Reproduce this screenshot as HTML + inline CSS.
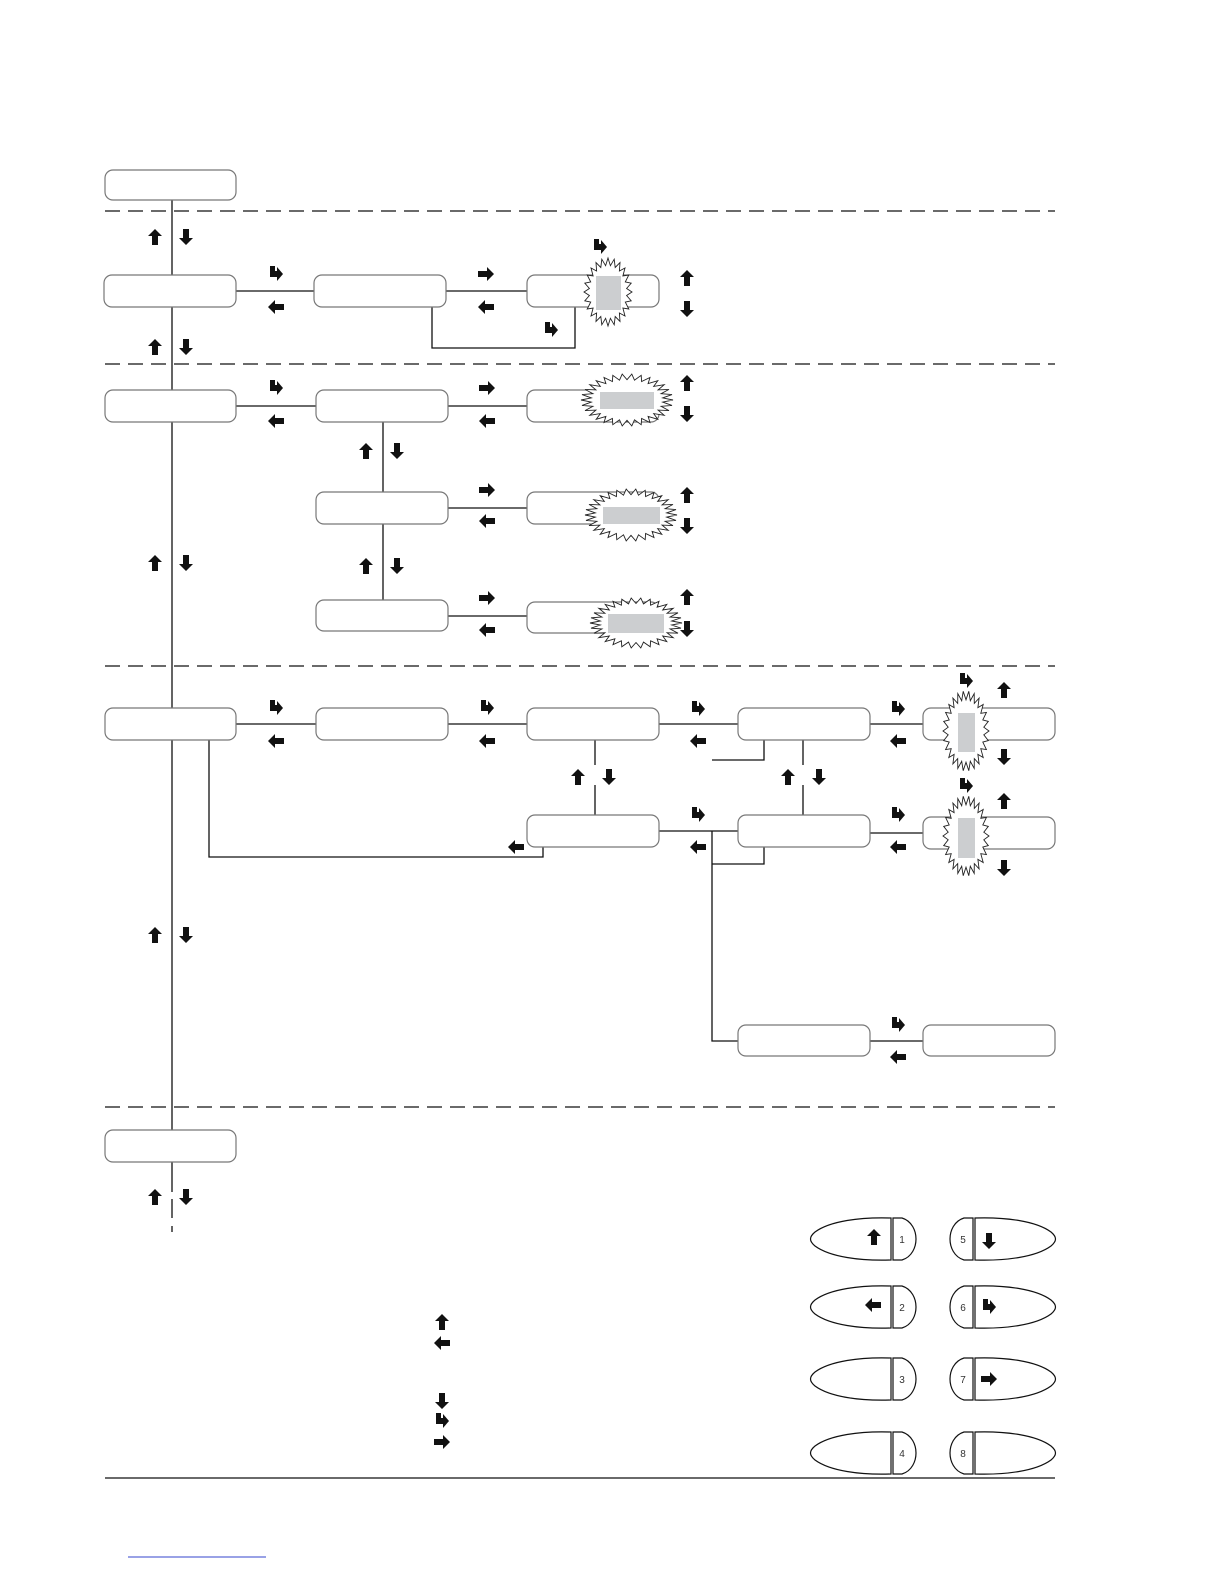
<!DOCTYPE html>
<html><head><meta charset="utf-8"><style>
html,body{margin:0;padding:0;background:#fff;width:1224px;height:1584px;overflow:hidden;}
svg{display:block;position:absolute;left:0;top:0;}
</style></head><body>
<svg id="s" width="1224" height="1584" viewBox="0 0 1224 1584" xmlns="http://www.w3.org/2000/svg">
<defs>
<path id="up" d="M0,-8 L7,-1 L3,-1 L3,8 L-3,8 L-3,-1 L-7,-1 Z" fill="#111"/>
<path id="dn" d="M0,8 L7,1 L3,1 L3,-8 L-3,-8 L-3,1 L-7,1 Z" fill="#111"/>
<path id="lf" d="M-8,0 L-1,-7 L-1,-3 L8,-3 L8,3 L-1,3 L-1,7 Z" fill="#111"/>
<path id="rt" d="M8,0 L1,-7 L1,-3 L-8,-3 L-8,3 L1,3 L1,7 Z" fill="#111"/>
<path id="en" d="M-6,-8 L-1,-8 L-1,-3 L1,-3 L1,-7 L7,0 L1,7 L1,3 L-6,3 Z" fill="#111"/>
</defs>
<g fill="none" stroke="#111" stroke-width="1.3">
<g stroke-dasharray="15 8">
<line x1="105" y1="211" x2="1055" y2="211"/>
<line x1="105" y1="364" x2="1055" y2="364"/>
<line x1="105" y1="666" x2="1055" y2="666"/>
<line x1="105" y1="1107" x2="1055" y2="1107"/>
</g>
<line x1="105" y1="1478" x2="1055" y2="1478"/>
<line x1="172" y1="200" x2="172" y2="1192"/>
<line x1="172" y1="1199" x2="172" y2="1218"/>
<line x1="172" y1="1226" x2="172" y2="1232"/>
<line x1="236" y1="291" x2="314" y2="291"/>
<line x1="446" y1="291" x2="527" y2="291"/>
<polyline points="432,307 432,348 575,348 575,307"/>
<line x1="236" y1="406" x2="316" y2="406"/>
<line x1="448" y1="406" x2="527" y2="406"/>
<line x1="448" y1="508" x2="527" y2="508"/>
<line x1="448" y1="616" x2="527" y2="616"/>
<line x1="383" y1="422" x2="383" y2="492"/>
<line x1="383" y1="524" x2="383" y2="600"/>
<line x1="236" y1="724" x2="316" y2="724"/>
<line x1="448" y1="724" x2="527" y2="724"/>
<line x1="659" y1="724" x2="738" y2="724"/>
<line x1="870" y1="724" x2="923" y2="724"/>
<line x1="595" y1="740" x2="595" y2="765"/>
<line x1="595" y1="785" x2="595" y2="815"/>
<line x1="803" y1="740" x2="803" y2="765"/>
<line x1="803" y1="785" x2="803" y2="815"/>
<polyline points="764,740 764,760 712,760"/>
<polyline points="209,740 209,857 543,857 543,847"/>
<line x1="659" y1="831" x2="738" y2="831"/>
<polyline points="712,831 712,1041 738,1041"/>
<polyline points="764,847 764,864 712,864"/>
<line x1="870" y1="833" x2="923" y2="833"/>
<line x1="870" y1="1041" x2="923" y2="1041"/>
</g>
<g fill="#fff" stroke="#777" stroke-width="1.2">
<rect x="105" y="170" width="131" height="30" rx="8"/>
<rect x="104" y="275" width="132" height="32" rx="8"/>
<rect x="314" y="275" width="132" height="32" rx="8"/>
<rect x="527" y="275" width="132" height="32" rx="8"/>
<rect x="105" y="390" width="131" height="32" rx="8"/>
<rect x="316" y="390" width="132" height="32" rx="8"/>
<rect x="527" y="390" width="132" height="32" rx="8"/>
<rect x="316" y="492" width="132" height="32" rx="8"/>
<rect x="527" y="492" width="132" height="32" rx="8"/>
<rect x="316" y="600" width="132" height="31" rx="8"/>
<rect x="527" y="602" width="132" height="31" rx="8"/>
<rect x="105" y="708" width="131" height="32" rx="8"/>
<rect x="316" y="708" width="132" height="32" rx="8"/>
<rect x="527" y="708" width="132" height="32" rx="8"/>
<rect x="738" y="708" width="132" height="32" rx="8"/>
<rect x="923" y="708" width="132" height="32" rx="8"/>
<rect x="527" y="815" width="132" height="32" rx="8"/>
<rect x="738" y="815" width="132" height="32" rx="8"/>
<rect x="923" y="817" width="132" height="32" rx="8"/>
<rect x="738" y="1025" width="132" height="31" rx="8"/>
<rect x="923" y="1025" width="132" height="31" rx="8"/>
<rect x="105" y="1130" width="131" height="32" rx="8"/>
</g>
<g id="bursts"></g>
<use href="#up" x="155" y="237"/><use href="#dn" x="186" y="237"/>
<use href="#up" x="155" y="347"/><use href="#dn" x="186" y="347"/>
<use href="#up" x="155" y="563"/><use href="#dn" x="186" y="563"/>
<use href="#up" x="155" y="935"/><use href="#dn" x="186" y="935"/>
<use href="#up" x="155" y="1197"/><use href="#dn" x="186" y="1197"/>
<use href="#en" x="276" y="274"/><use href="#lf" x="276" y="307"/>
<use href="#rt" x="486" y="274"/><use href="#lf" x="486" y="307"/>
<use href="#en" x="600" y="247"/><use href="#en" x="551" y="330"/>
<use href="#up" x="687" y="278"/><use href="#dn" x="687" y="309"/>
<use href="#en" x="276" y="388"/><use href="#lf" x="276" y="421"/>
<use href="#rt" x="487" y="388"/><use href="#lf" x="487" y="421"/>
<use href="#up" x="687" y="383"/><use href="#dn" x="687" y="414"/>
<use href="#up" x="366" y="451"/><use href="#dn" x="397" y="451"/>
<use href="#rt" x="487" y="490"/><use href="#lf" x="487" y="521"/>
<use href="#up" x="687" y="495"/><use href="#dn" x="687" y="526"/>
<use href="#up" x="366" y="566"/><use href="#dn" x="397" y="566"/>
<use href="#rt" x="487" y="598"/><use href="#lf" x="487" y="630"/>
<use href="#up" x="687" y="597"/><use href="#dn" x="687" y="629"/>
<use href="#en" x="276" y="708"/><use href="#lf" x="276" y="741"/>
<use href="#en" x="487" y="708"/><use href="#lf" x="487" y="741"/>
<use href="#en" x="698" y="709"/><use href="#lf" x="698" y="741"/>
<use href="#en" x="898" y="709"/><use href="#lf" x="898" y="741"/>
<use href="#en" x="966" y="681"/><use href="#up" x="1004" y="690"/><use href="#dn" x="1004" y="757"/>
<use href="#up" x="578" y="777"/><use href="#dn" x="609" y="777"/>
<use href="#up" x="788" y="777"/><use href="#dn" x="819" y="777"/>
<use href="#lf" x="516" y="847"/>
<use href="#en" x="698" y="815"/><use href="#lf" x="698" y="847"/>
<use href="#en" x="898" y="815"/><use href="#lf" x="898" y="847"/>
<use href="#en" x="966" y="786"/><use href="#up" x="1004" y="801"/><use href="#dn" x="1004" y="868"/>
<use href="#en" x="898" y="1025"/><use href="#lf" x="898" y="1057"/>
<use href="#up" x="442" y="1322"/><use href="#lf" x="442" y="1343"/>
<use href="#dn" x="442" y="1401"/><use href="#en" x="442" y="1421"/><use href="#rt" x="442" y="1442"/>
<g id="btns" fill="#fff" stroke="#111" stroke-width="1.2" font-family="Liberation Sans, sans-serif" font-size="10"></g>
<line x1="128" y1="1557" x2="266" y2="1557" stroke="#3344cc" stroke-width="1"/>
</svg>
<script>
(function(){
var NS="http://www.w3.org/2000/svg",s=document.getElementById("s"),b=document.getElementById("bursts"),g=document.getElementById("btns");
function el(n,a,p){var e=document.createElementNS(NS,n);for(var k in a)e.setAttribute(k,a[k]);(p||s).appendChild(e);return e;}
function burst(cx,cy,rx,ry,n,gx,gy,gw,gh){var pts=[];for(var i=0;i<2*n;i++){var a=Math.PI*i/n,f=i%2?0.78:1;pts.push((cx+rx*f*Math.cos(a)).toFixed(1)+","+(cy+ry*f*Math.sin(a)).toFixed(1));}
el("polygon",{points:pts.join(" "),fill:"#fff",stroke:"#222","stroke-width":"0.9"},b);
el("rect",{x:gx,y:gy,width:gw,height:gh,fill:"#ccced0"},b);}
burst(608,292,24,34,24,596,276,25,34);
burst(627,400,46,26,30,600,392,54,17);
burst(631,515,46,26,30,603,507,57,17);
burst(636,623,46,25,30,608,614,56,19);
burst(966,731,23,40,26,958,713,17,39);
burst(966,836,23,40,26,958,818,17,40);
var body="M891,-21 L891,21 C860,22 830,18 815,7 C809,2 809,-2 815,-7 C830,-18 860,-22 891,-21 Z";
var cap="M893,-21 L902,-21 C912,-18 916,-8 916,0 C916,8 912,18 902,21 L893,21 Z";
var ys=[1239,1307,1379,1453],nums=["1","2","3","4"],rn=["5","6","7","8"];
ys.forEach(function(y,i){
 var l=el("g",{transform:"translate(0,"+y+")"},g);el("path",{d:body},l);el("path",{d:cap},l);
 var r=el("g",{transform:"translate(1866,"+y+") scale(-1,1)"},g);el("path",{d:body},r);el("path",{d:cap},r);
 el("text",{x:902,y:y+4,"text-anchor":"middle",fill:"#333",stroke:"none"},g).textContent=nums[i];
 el("text",{x:963,y:y+4,"text-anchor":"middle",fill:"#333",stroke:"none"},g).textContent=rn[i];
});
var ic=[["up",874,1237],["lf",873,1305],["dn",989,1241],["en",989,1307],["rt",989,1379]];
ic.forEach(function(a){var u=el("use",{x:a[1],y:a[2]});u.setAttribute("href","#"+a[0]);});
})();
</script>
</body></html>
